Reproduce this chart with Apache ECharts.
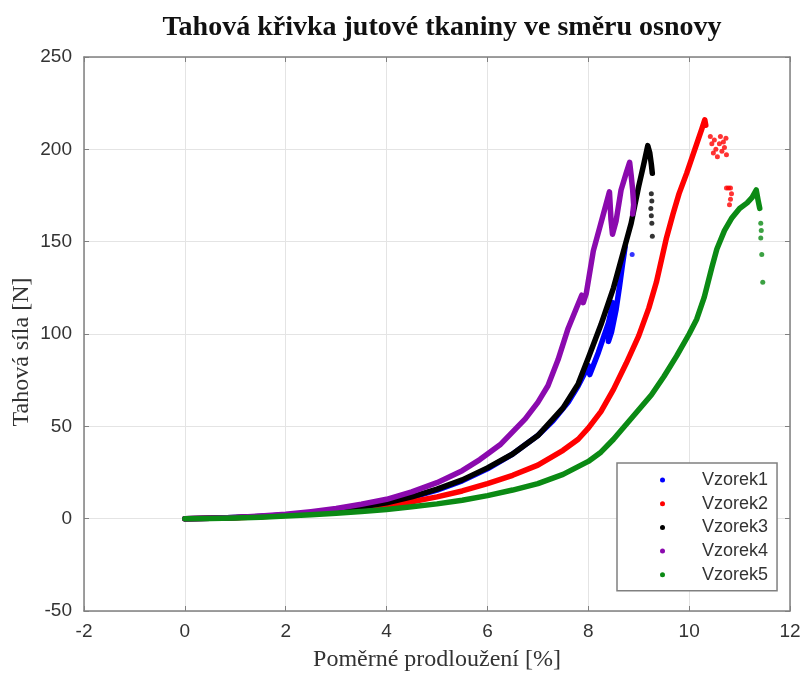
<!DOCTYPE html>
<html>
<head>
<meta charset="utf-8">
<script src="https://cdn.jsdelivr.net/npm/echarts@6/dist/echarts.min.js"></script>
<style>
  html, body { margin: 0; padding: 0; background: #ffffff; }
  #chart { width: 806px; height: 677px; }
</style>
</head>
<body>
<div id="chart"></div>
<script>
// Tensile curves of jute fabric in the warp direction: elongation [%] vs. force [N]
const seriesNames = ['Vzorek1', 'Vzorek2', 'Vzorek3', 'Vzorek4', 'Vzorek5'];
const seriesColors = ['#0000ff', '#ff0000', '#000000', '#8b0aae', '#0b8a14'];

// main traces [elongation %, force N]
const vzorek1 = [[0,0],[0.5,0.2],[1,0.6],[1.5,1.2],[2,2],[2.5,3.1],[3,4.5],[3.5,6.2],[4,8.5],[4.5,11.5],[5,15.5],[5.5,20.5],[6,27],[6.5,35],[7,45],[7.3,53],[7.6,63],[7.8,72],[7.95,80],[8.0,83],[8.03,78],[8.1,83],[8.2,90],[8.3,98],[8.4,106],[8.45,112],[8.48,117],[8.44,105],[8.4,96],[8.46,101],[8.55,113],[8.62,126],[8.68,138],[8.73,147]];
const vzorek2 = [[0,0],[0.5,0.2],[1,0.55],[1.5,1.1],[2,1.8],[2.5,2.7],[3,3.9],[3.5,5.3],[4,7],[4.5,9.2],[5,11.8],[5.5,15],[6,19],[6.5,23.5],[7,29],[7.5,37],[7.8,43],[8,49],[8.25,58],[8.5,70],[8.75,84],[9,99],[9.2,114],[9.35,128],[9.45,140],[9.55,152],[9.68,165],[9.8,176],[9.95,187],[10.05,195],[10.15,203],[10.25,211],[10.31,216],[10.33,213]];
const vzorek3 = [[0,0],[0.5,0.2],[1,0.6],[1.5,1.2],[2,2],[2.5,3.1],[3,4.5],[3.5,6.3],[4,8.6],[4.5,11.8],[5,16],[5.5,21],[6,27.5],[6.5,35],[7,45],[7.5,60],[7.8,73],[8,87],[8.25,105],[8.5,125],[8.7,145],[8.85,160],[9.0,180],[9.1,192],[9.18,202],[9.22,198],[9.25,192],[9.27,187]];
const vzorek4 = [[0,0],[0.5,0.25],[1,0.7],[1.5,1.4],[2,2.4],[2.5,3.8],[3,5.5],[3.5,7.8],[4,10.5],[4.5,14.5],[5,19.5],[5.5,26],[5.85,32],[6,35],[6.25,40],[6.5,47],[6.75,54],[7,63],[7.2,72],[7.4,86],[7.6,103],[7.75,113],[7.87,121],[7.9,117],[7.96,122],[8.1,145],[8.25,160],[8.42,177],[8.45,162],[8.48,154],[8.55,161],[8.65,178],[8.75,187],[8.82,193],[8.85,186],[8.88,178],[8.9,170],[8.88,165]];
const vzorek5 = [[0,0],[0.5,0.15],[1,0.4],[1.5,0.8],[2,1.4],[2.5,2.1],[3,2.9],[3.5,3.9],[4,5],[4.5,6.4],[5,8],[5.5,10],[6,12.5],[6.5,15.5],[7,19],[7.5,24],[8,31],[8.25,36],[8.5,43],[8.75,51],[9,59],[9.25,67],[9.5,77],[9.75,88],[10,100],[10.15,108],[10.3,120],[10.45,136],[10.55,146],[10.7,156],[10.85,163],[11,168],[11.15,171],[11.25,174],[11.33,178],[11.37,172],[11.4,168]];

// isolated readings after rupture
const vzorek1Loose = [[8.87,143]];
const vzorek2Loose = [[10.42,207],[10.45,203],[10.48,198],[10.5,205],[10.53,200],[10.56,196],[10.6,203],[10.62,207],[10.65,199],[10.68,204],[10.7,201],[10.73,206],[10.74,197],[10.74,179],[10.78,179],[10.82,179],[10.84,176],[10.82,173],[10.8,170]];
const vzorek3Loose = [[9.25,176],[9.26,172],[9.24,168],[9.25,164],[9.26,160],[9.27,153]];
const vzorek4Loose = [];
const vzorek5Loose = [[11.42,160],[11.43,156],[11.42,152],[11.44,143],[11.46,128]];

const traces = [vzorek1, vzorek2, vzorek3, vzorek4, vzorek5];
const loose = [vzorek1Loose, vzorek2Loose, vzorek3Loose, vzorek4Loose, vzorek5Loose];

const titleText = 'Tahová křivka jutové tkaniny ve směru osnovy';
const xName = 'Poměrné prodloužení [%]';
const yName = 'Tahová síla [N]';

const frameColor = '#808080';
const tickFont = { fontFamily: 'Liberation Sans', fontSize: 19, color: '#333333' };
const nameFont = { fontFamily: 'Liberation Serif', fontSize: 24, color: '#333333' };

const series = [];
traces.forEach((d, i) => {
  series.push({
    name: seriesNames[i], type: 'line', data: d,
    showSymbol: false, symbol: 'circle', color: seriesColors[i],
    lineStyle: { width: 5.5, color: seriesColors[i], cap: 'round', join: 'round' },
    emphasis: { disabled: true }, silent: true, z: 2 + i
  });
  if (loose[i].length) {
    series.push({
      name: seriesNames[i], type: 'scatter', data: loose[i],
      symbol: 'circle', symbolSize: 5, color: seriesColors[i],
      itemStyle: { color: seriesColors[i] },
      emphasis: { disabled: true }, silent: true, z: 2 + i
    });
  }
});

const chart = echarts.init(document.getElementById('chart'), null, { renderer: 'canvas' });
chart.setOption({
  animation: false,
  backgroundColor: '#ffffff',
  title: {
    text: titleText, left: 437, top: 9, textAlign: 'center',
    textStyle: { fontFamily: 'Liberation Serif', fontWeight: 'bold', fontSize: 28, color: '#111111' }
  },
  grid: { left: 84, right: 16, top: 57, bottom: 66, show: false, containLabel: false, outerBoundsMode: 'none' },
  legend: {
    data: seriesNames.map(n => ({ name: n, icon: 'circle' })),
    orient: 'vertical', left: 617, top: 463,
    itemWidth: 5, itemHeight: 5, itemGap: 3.7,
    padding: [7, 9, 6, 43],
    backgroundColor: '#ffffff', borderColor: frameColor, borderWidth: 1.5,
    textStyle: { fontFamily: 'Liberation Sans', fontSize: 18, color: '#333333', lineHeight: 20, padding: [0, 0, 0, 32] },
    selectedMode: false
  },
  xAxis: [{
    type: 'value', min: -2, max: 12, interval: 2,
    name: xName, nameLocation: 'middle', nameGap: 37, nameMoveOverlap: false,
    nameTextStyle: nameFont,
    axisLine: { show: true, onZero: false, lineStyle: { color: frameColor, width: 1.5 } },
    axisTick: { show: true, inside: true, length: 5, lineStyle: { color: frameColor } },
    axisLabel: Object.assign({ margin: 11 }, tickFont),
    splitLine: { show: true, lineStyle: { color: '#e4e4e4', width: 1 } }
  }, {
    type: 'value', min: -2, max: 12, interval: 2, position: 'top',
    axisLine: { show: true, onZero: false, lineStyle: { color: frameColor, width: 1.5 } },
    axisTick: { show: true, inside: true, length: 5, lineStyle: { color: frameColor } },
    axisLabel: { show: false }, splitLine: { show: false }
  }],
  yAxis: [{
    type: 'value', min: -50, max: 250, interval: 50,
    name: yName, nameLocation: 'middle', nameGap: 50, nameRotate: 90, nameMoveOverlap: false,
    nameTextStyle: Object.assign({ padding: [0, 36, 0, 0] }, nameFont),
    axisLine: { show: true, onZero: false, lineStyle: { color: frameColor, width: 1.5 } },
    axisTick: { show: true, inside: true, length: 5, lineStyle: { color: frameColor } },
    axisLabel: Object.assign({ margin: 12 }, tickFont),
    splitLine: { show: true, lineStyle: { color: '#e4e4e4', width: 1 } }
  }, {
    type: 'value', min: -50, max: 250, interval: 50, position: 'right',
    axisLine: { show: true, onZero: false, lineStyle: { color: frameColor, width: 1.5 } },
    axisTick: { show: true, inside: true, length: 5, lineStyle: { color: frameColor } },
    axisLabel: { show: false }, splitLine: { show: false }
  }],
  series: series
});
</script>
</body>
</html>
